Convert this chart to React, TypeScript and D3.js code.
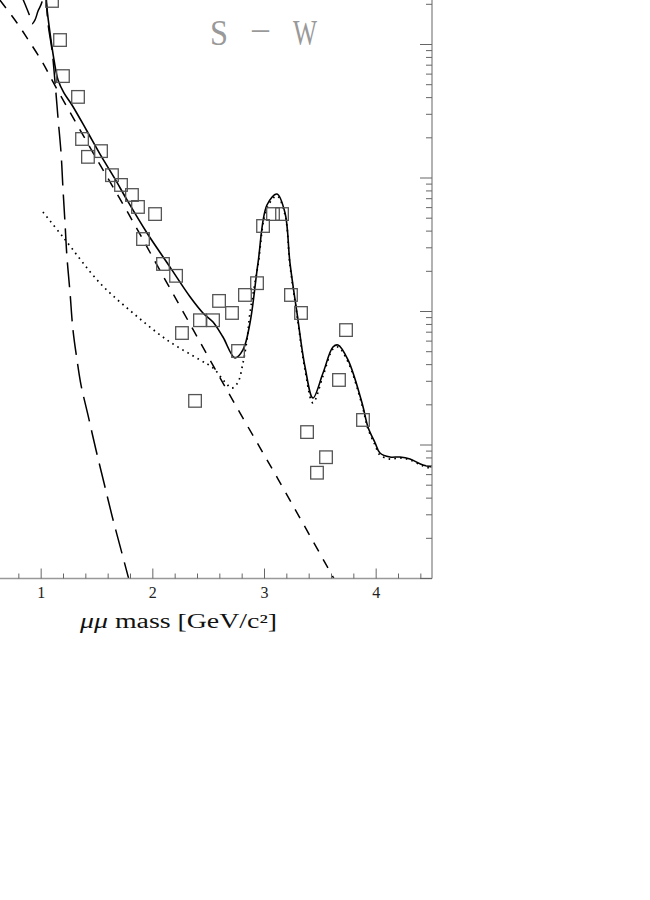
import React from "react";
import * as d3 from "d3";

// ---- data ----
const massTicks = [1, 2, 3, 4];

const pointMass = [1.097, 1.169, 1.195, 1.33, 1.366, 1.419, 1.536, 1.634, 1.715, 1.813, 1.867, 1.912, 2.02, 2.091, 2.208, 2.261, 2.378, 2.422, 2.539, 2.593, 2.709, 2.763, 2.825, 2.933, 2.987, 3.076, 3.157, 3.237, 3.327, 3.381, 3.47, 3.551, 3.667, 3.73, 3.882];
const pointCounts = [21200, 10800, 5800, 4050, 1960, 1440, 1590, 1050, 887, 746, 607, 349, 537, 227, 185, 69, 21.4, 86, 86, 120, 97.5, 50.6, 133, 163, 437, 537, 537, 133, 97.5, 12.5, 6.2, 8.1, 30.7, 72.6, 15.4];

const totalMass = [1.025, 1.043, 1.079, 1.115, 1.151, 1.204, 1.276, 1.41, 1.527, 1.661, 1.769, 1.948, 2.154, 2.333, 2.449, 2.539, 2.628, 2.736, 2.807, 2.87, 2.942, 3.022, 3.112, 3.184, 3.228, 3.291, 3.363, 3.434, 3.524, 3.613, 3.658, 3.748, 3.873, 3.927, 3.99, 4.034, 4.124, 4.213, 4.303, 4.419, 4.5];
const totalCounts = [30400, 21500, 12200, 7660, 5420, 4340, 3520, 2250, 1510, 984, 684, 387, 215, 129, 97.5, 83.4, 64.4, 44.9, 51.5, 82.0, 231, 628, 759, 547, 231, 97.5, 38.4, 22.5, 34.6, 54.2, 56.1, 43.4, 20.7, 13.6, 10.4, 8.71, 8.13, 8.13, 7.85, 7.08, 6.84];

const dottedMass = [1.016, 1.196, 1.527, 1.822, 2.127, 2.422, 2.539, 2.646, 2.709, 2.763, 2.807, 2.843, 2.87, 2.942, 3.022, 3.112, 3.184, 3.228, 3.291, 3.363, 3.434, 3.524, 3.613, 3.658, 3.748, 3.873, 3.927, 3.99, 4.034, 4.124, 4.213, 4.303, 4.419, 4.5];
const dottedCounts = [556, 361, 163, 97.5, 61.2, 43.4, 37.8, 29.6, 26.7, 29.6, 41.1, 61.2, 97.5, 223, 596, 733, 528, 223, 94.2, 36.5, 20.7, 32.9, 52.4, 54.2, 41.9, 20.0, 13.2, 10.0, 8.41, 7.85, 8.0, 7.73, 6.97, 6.61];

const dashedMass = [0.631, 0.784, 0.873, 1.016, 1.106, 1.482, 1.778, 2.091, 2.333, 2.583, 2.843, 3.121, 3.613, 3.721];
const dashedCounts = [21500, 14500, 11200, 7260, 5240, 1460, 547, 185, 80.5, 34.0, 14.1, 5.56, 1.03, 0.714];

const longDashMass = [0.81, 0.855, 0.891, 0.918, 0.945, 0.972, 1.007, 1.03, 1.061, 1.097, 1.124, 1.151, 1.178, 1.195, 1.213, 1.231, 1.258, 1.285, 1.321, 1.357, 1.419, 1.491, 1.563, 1.635, 1.716, 1.787];
const longDashCounts = [24700, 20100, 16900, 14300, 15300, 17800, 20800, 33200, 14500, 9100, 5240, 2810, 1540, 841, 468, 256, 140, 72.6, 43.4, 28.1, 16.8, 9.18, 5.19, 2.94, 1.63, 0.975];

const xLabel = "mass [GeV/c²]";
const xLabelItalic = "μμ ";

export default function App() {
  const x = d3.scaleLinear().domain([0, 4.5]).range([-70.5, 432]);
  const y = d3.scaleLog().domain([1, 1e5]).range([578.5, 578.5 - 5 * 133.5]);
  const right = x(4.5);
  const bottom = y(1);

  const mk = (ms: number[], cs: number[]) =>
    d3
      .line<number>()
      .x((_, i) => x(ms[i]))
      .y((_, i) => y(cs[i]))
      .curve(d3.curveCatmullRom.alpha(0.5))(ms) || "";

  const xMinor = d3.range(2, 45, 2).map((v) => v / 10);
  const yTicks: { v: number; major: boolean }[] = [];
  for (let k = 0; k < 5; k++) {
    for (let m = 1; m <= 9; m++) {
      const v = m * Math.pow(10, k);
      if (y(v) >= -2) yTicks.push({ v, major: m === 1 });
    }
  }

  return (
    <svg
      width={650}
      height={900}
      style={{ position: "absolute", left: 0, top: 0, background: "#fff" }}
      fontFamily="'Liberation Serif', serif"
    >
      <defs>
        <clipPath id="plot">
          <rect x={-100} y={-200} width={right + 100} height={bottom + 200} />
        </clipPath>
      </defs>

      {/* curves */}
      <g clipPath="url(#plot)" fill="none" stroke="#000">
        <path d={mk(dashedMass, dashedCounts)} strokeWidth={1.5} strokeDasharray="10 9" />
        <path d={mk(longDashMass, longDashCounts)} strokeWidth={1.5} strokeDasharray="25 9" />
        <path d={mk(dottedMass, dottedCounts)} strokeWidth={1.7} strokeDasharray="1.6 4.2" />
        <path d={mk(totalMass, totalCounts)} strokeWidth={1.6} />
      </g>

      {/* data squares */}
      <g fill="none" stroke="#555" strokeWidth={1.3}>
        {pointMass.map((m, i) => (
          <rect key={i} x={x(m) - 6.3} y={y(pointCounts[i]) - 6.3} width={12.6} height={12.6} />
        ))}
      </g>

      {/* axes */}
      <g stroke="#999" strokeWidth={1.5}>
        <line x1={0} x2={right} y1={bottom} y2={bottom} />
        <line x1={right} x2={right} y1={0} y2={bottom} />
      </g>
      <g stroke="#666" strokeWidth={1}>
        {xMinor.map((v, i) => {
          const major = Math.abs(v - Math.round(v)) < 1e-6;
          return <line key={i} x1={x(v)} x2={x(v)} y1={bottom} y2={bottom - (major ? 10 : 5)} />;
        })}
        {yTicks.map((t, i) => (
          <line key={i} x1={right} x2={right - (t.major ? 12 : 6)} y1={y(t.v)} y2={y(t.v)} />
        ))}
      </g>
      <g fill="#222" fontSize={16} textAnchor="middle">
        {massTicks.map((t) => (
          <text key={t} x={x(t)} y={598}>
            {t}
          </text>
        ))}
      </g>
      <text x={80} y={628} fontSize={20} fill="#111" textLength={197} lengthAdjust="spacingAndGlyphs">
        <tspan fontStyle="italic">{xLabelItalic}</tspan>
        {xLabel}
      </text>

      {/* title */}
      <g fill="#999" fontSize={35}>
        <text x={210} y={45} textLength={18} lengthAdjust="spacingAndGlyphs">S</text>
        <text x={250} y={43} textLength={21} lengthAdjust="spacingAndGlyphs">−</text>
        <text x={293} y={45} textLength={24} lengthAdjust="spacingAndGlyphs">W</text>
      </g>
    </svg>
  );
}
